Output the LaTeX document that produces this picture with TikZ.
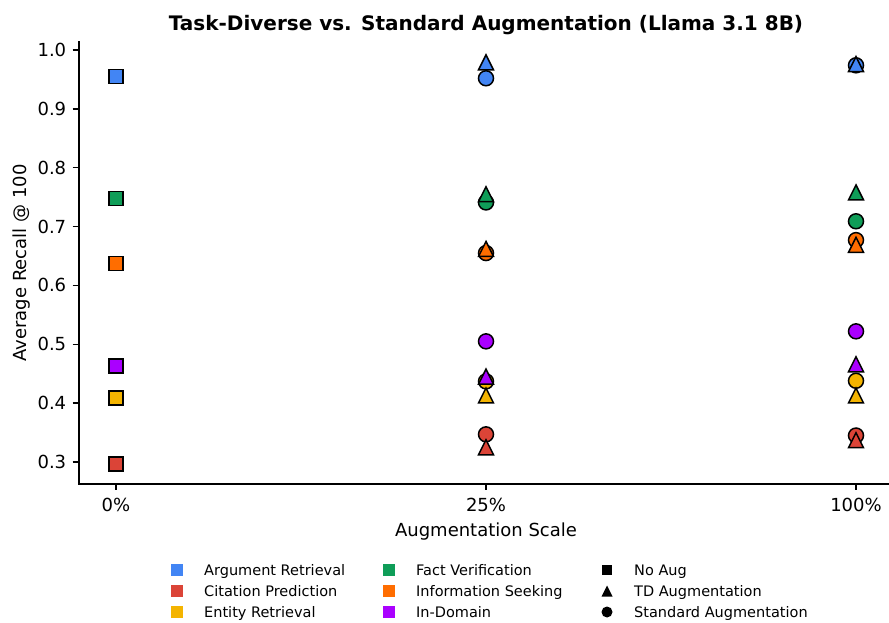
\documentclass[tikz,border=0pt]{standalone}
\usepackage{fontspec}
\setmainfont{DejaVu Sans}
\definecolor{cArg}{HTML}{4285F4}
\definecolor{cCit}{HTML}{DB4437}
\definecolor{cEnt}{HTML}{F4B400}
\definecolor{cFact}{HTML}{0F9D58}
\definecolor{cInfo}{HTML}{FF6D00}
\definecolor{cInd}{HTML}{AA00FF}
\tikzset{
  mk/.style={draw=black, line width=1.5pt, line join=miter},
  sqm/.style={mk, rectangle, minimum size=14pt, inner sep=0pt},
  cim/.style={mk, circle, minimum size=15pt, inner sep=0pt},
  axisline/.style={line width=1.4pt, line cap=rect},
  tickline/.style={line width=1.4pt},
  ticklab/.style={font=\fontsize{18}{18}\selectfont, inner sep=0pt},
  leglab/.style={font=\fontsize{14.5}{14.5}\selectfont, inner sep=0pt, anchor=base west},
  legsq/.style={rectangle, minimum size=12pt, inner sep=0pt},
  legblk/.style={fill=black, inner sep=0pt, minimum size=10.5pt},
}
\newcommand{\trimark}[3]{\draw[mk, fill=#2] ([shift={(0pt,#3)}]#1) -- ([shift={(-#3,-#3)}]#1) -- ([shift={(#3,-#3)}]#1) -- cycle;}
\begin{document}
\begin{tikzpicture}[x=1pt, y=1pt]
\useasboundingbox (0,0) rectangle (889,622);
% title
\node[font=\bfseries\fontsize{20}{20}\selectfont, anchor=base, inner sep=0pt] (title) at (486,591) {Task-Diverse vs. Standard Augmentation (Llama 3.1 8B)};
% axis labels
\node[ticklab, anchor=base] (xlab) at (486,86) {Augmentation Scale};
\node[ticklab, anchor=base, rotate=90] (ylab) at (27,359) {Average Recall @ 100};
% x ticks
\foreach \xx/\lab/\nm in {116/0\%/xa, 486/25\%/xb, 856/100\%/xc}{
  \draw[tickline] (\xx,138) -- (\xx,131.7);
  \node[ticklab, anchor=base] (\nm) at (\xx,111) {\lab};
}
\begin{scope}[y=588.57pt, yshift=-16.57pt]
  % spines
  \draw[axisline] (79,1.0136) -- (79,0.2626) -- (889,0.2626);
  % y ticks
  \foreach \v in {0.3,0.4,0.5,0.6,0.7,0.8,0.9,1.0}{
    \draw[tickline] (72.7,\v) -- (79,\v);
    \node[ticklab, anchor=base east, yshift=-6.5pt] (yt\v) at (66.4,\v) {\v};
  }
  % No Aug squares (0%)
  \node[sqm, fill=cArg]  (s1) at (116,0.955) {};
  \node[sqm, fill=cFact] (s2) at (116,0.748) {};
  \node[sqm, fill=cInfo] (s3) at (116,0.637) {};
  \node[sqm, fill=cInd]  (s4) at (116,0.463) {};
  \node[sqm, fill=cEnt]  (s5) at (116,0.409) {};
  \node[sqm, fill=cCit]  (s6) at (116,0.297) {};
  % Standard augmentation circles
  \node[cim, fill=cArg]  (b1) at (486,0.952) {};
  \node[cim, fill=cFact] (b2) at (486,0.741) {};
  \node[cim, fill=cInfo] (b3) at (486,0.655) {};
  \node[cim, fill=cInd]  (b4) at (486,0.505) {};
  \node[cim, fill=cEnt]  (b5) at (486,0.437) {};
  \node[cim, fill=cCit]  (b6) at (486,0.347) {};
  \node[cim, fill=cArg]  (c1) at (856,0.974) {};
  \node[cim, fill=cFact] (c2) at (856,0.709) {};
  \node[cim, fill=cInfo] (c3) at (856,0.677) {};
  \node[cim, fill=cInd]  (c4) at (856,0.522) {};
  \node[cim, fill=cEnt]  (c5) at (856,0.438) {};
  \node[cim, fill=cCit]  (c6) at (856,0.345) {};
  % TD augmentation triangles
  \coordinate (tb1) at (486,0.979);
  \coordinate (tb2) at (486,0.755);
  \coordinate (tb3) at (486,0.662);
  \coordinate (tb4) at (486,0.445);
  \coordinate (tb5) at (486,0.413);
  \coordinate (tb6) at (486,0.325);
  \coordinate (tc1) at (856,0.976);
  \coordinate (tc2) at (856,0.758);
  \coordinate (tc3) at (856,0.669);
  \coordinate (tc4) at (856,0.466);
  \coordinate (tc5) at (856,0.413);
  \coordinate (tc6) at (856,0.337);
  \trimark{tb1}{cArg}{7.5pt}
  \trimark{tb2}{cFact}{7.5pt}
  \trimark{tb3}{cInfo}{7.5pt}
  \trimark{tb4}{cInd}{7.5pt}
  \trimark{tb5}{cEnt}{7.5pt}
  \trimark{tb6}{cCit}{7.5pt}
  \trimark{tc1}{cArg}{7.5pt}
  \trimark{tc2}{cFact}{7.5pt}
  \trimark{tc3}{cInfo}{7.5pt}
  \trimark{tc4}{cInd}{7.5pt}
  \trimark{tc5}{cEnt}{7.5pt}
  \trimark{tc6}{cCit}{7.5pt}
\end{scope}
% legend
\node[legsq, fill=cArg]  (l1) at (177,52) {};
\node[legsq, fill=cCit]  (l2) at (177,31) {};
\node[legsq, fill=cEnt]  (l3) at (177,10) {};
\node[legsq, fill=cFact] (l4) at (389,52) {};
\node[legsq, fill=cInfo] (l5) at (389,31) {};
\node[legsq, fill=cInd]  (l6) at (389,10) {};
\node[leglab] (lt1) at (204,46.5) {Argument Retrieval};
\node[leglab] (lt2) at (204,25.5) {Citation Prediction};
\node[leglab] (lt3) at (204,4.5) {Entity Retrieval};
\node[leglab] (lt4) at (416,46.5) {Fact Verification};
\node[leglab] (lt5) at (416,25.5) {Information Seeking};
\node[leglab] (lt6) at (416,4.5) {In-Domain};
\node[legblk, rectangle] (l7) at (607,52) {};
\coordinate (l8) at (607,31);
\fill[black] ([shift={(0pt,5.5pt)}]l8) -- ([shift={(-5.5pt,-5.5pt)}]l8) -- ([shift={(5.5pt,-5.5pt)}]l8) -- cycle;
\node[legblk, circle, minimum size=11pt] (l9) at (607,10) {};
\node[leglab] (lt7) at (634,46.5) {No Aug};
\node[leglab] (lt8) at (634,25.5) {TD Augmentation};
\node[leglab] (lt9) at (634,4.5) {Standard Augmentation};
\end{tikzpicture}
\end{document}
